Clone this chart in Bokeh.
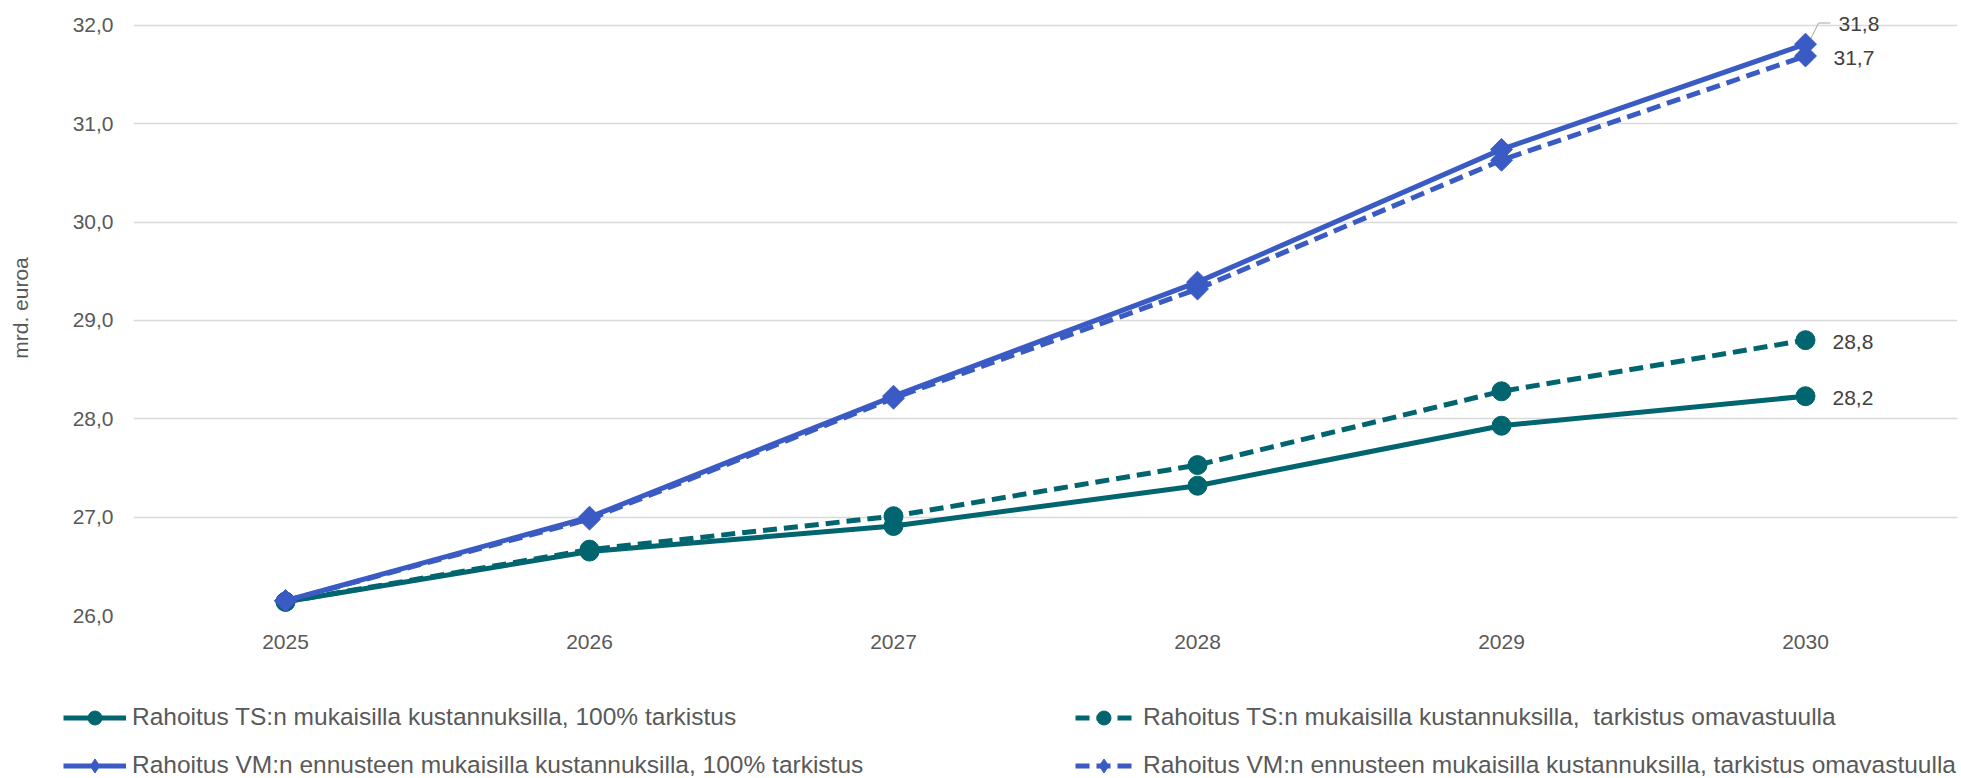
import math
from bokeh.plotting import figure
from bokeh.models import Range1d, FixedTicker, Legend, LegendItem, ColumnDataSource
from bokeh.embed import file_html
from bokeh.resources import INLINE
from bokeh.core.properties import value

# ---- data ----
years = [2025, 2026, 2027, 2028, 2029, 2030]
ts_full = [26.14, 26.65, 26.91, 27.32, 27.93, 28.23]
ts_own = [26.14, 26.67, 27.01, 27.53, 28.28, 28.80]
vm_full = [26.15, 27.00, 28.23, 29.39, 30.74, 31.81]
vm_own = [26.15, 26.98, 28.21, 29.32, 30.63, 31.69]
y_ticks = [26, 27, 28, 29, 30, 31, 32]
series_names = [
    "Rahoitus TS:n mukaisilla kustannuksilla, 100% tarkistus",
    "Rahoitus TS:n mukaisilla kustannuksilla,  tarkistus omavastuulla",
    "Rahoitus VM:n ennusteen mukaisilla kustannuksilla, 100% tarkistus",
    "Rahoitus VM:n ennusteen mukaisilla kustannuksilla, tarkistus omavastuulla",
]
y_title = "mrd. euroa"

TEAL = "#00656F"
BLUE = "#3A5BC4"
FONT = "Liberation Sans"
TICK_COLOR = "#595959"
LABEL_COLOR = "#404040"
DASH = "14 7"

# ---------------- main chart ----------------
p = figure(width=1961, height=663, output_backend="svg", toolbar_location=None,
           x_range=Range1d(2024.5, 2030.5), y_range=Range1d(26, 32.254),
           min_border_left=133, min_border_right=4, min_border_top=0,
           min_border_bottom=48)
p.outline_line_color = None
p.background_fill_color = "white"
p.border_fill_color = "white"

p.xaxis.ticker = FixedTicker(ticks=years)
p.xaxis.major_label_overrides = {y: str(y) for y in years}
p.yaxis.ticker = FixedTicker(ticks=y_ticks)
p.yaxis.major_label_overrides = {t: f"{t:.1f}".replace(".", ",") for t in y_ticks}
for ax in (p.xaxis, p.yaxis):
    ax.axis_line_color = None
    ax.major_tick_line_color = None
    ax.minor_tick_line_color = None
    ax.major_tick_out = 0
    ax.major_tick_in = 0
    ax.major_label_text_font = FONT
    ax.major_label_text_font_size = "21px"
    ax.major_label_text_color = TICK_COLOR
p.xaxis.major_label_standoff = 19
p.yaxis.major_label_standoff = 20
p.yaxis.axis_label = y_title
p.yaxis.axis_label_text_font = FONT
p.yaxis.axis_label_text_font_size = "21px"
p.yaxis.axis_label_text_font_style = "normal"
p.yaxis.axis_label_text_color = TICK_COLOR
p.yaxis.axis_label_standoff = 38

p.xgrid.grid_line_color = None
p.ygrid.ticker = FixedTicker(ticks=y_ticks)
p.ygrid.grid_line_color = "#D9D9D9"
p.ygrid.grid_line_width = 1.3

# leader line for the top label
xl = years[-1]
vt = vm_full[-1]
p.line(x=[xl + 0.01, xl + 0.043, xl + 0.082], y=[vt + 0.01, vt + 0.215, vt + 0.215],
       line_color="#A6A6A6", line_width=1)

p.line(years, ts_full, line_color=TEAL, line_width=5)
p.scatter(years, ts_full, marker="circle", size=19, color=TEAL)
p.line(years, ts_own, line_color=TEAL, line_width=5, line_dash=DASH)
p.scatter(years, ts_own, marker="circle", size=19, color=TEAL)
p.line(years, vm_full, line_color=BLUE, line_width=5)
p.scatter(years, vm_full, marker="square", angle=math.pi / 4, size=15.5, color=BLUE)
p.line(years, vm_own, line_color=BLUE, line_width=5, line_dash=DASH)
p.scatter(years, vm_own, marker="square", angle=math.pi / 4, size=15.5, color=BLUE)

lab_vals = [vm_full[-1], vm_own[-1], ts_own[-1], ts_full[-1]]
lab_src = ColumnDataSource(dict(
    x=[years[-1]] * 4,
    y=[vm_full[-1] + 0.21, vm_own[-1] - 0.02, ts_own[-1] - 0.015, ts_full[-1] - 0.015],
    t=[f"{v:.1f}".replace(".", ",") for v in lab_vals],
    xo=[33, 28, 27, 27],
))
p.text(x="x", y="y", text="t", x_offset="xo", source=lab_src,
       text_font=value(FONT), text_font_size="21px", text_color=LABEL_COLOR,
       text_align="left", text_baseline="middle")

# ---------------- legend strip ----------------
q = figure(width=1961, height=115, output_backend="svg", toolbar_location=None,
           x_range=Range1d(0, 1), y_range=Range1d(0, 1),
           x_axis_location=None, y_axis_location=None,
           min_border_left=0, min_border_right=0, min_border_top=0, min_border_bottom=0)
q.outline_line_color = None
q.xgrid.grid_line_color = None
q.ygrid.grid_line_color = None
q.border_fill_color = "white"

nan = float("nan")
g1 = q.line([0], [nan], line_color=TEAL, line_width=5)
s1 = q.scatter([0], [nan], marker="circle", size=14, color=TEAL)
g2 = q.line([0], [nan], line_color=TEAL, line_width=5, line_dash="14 7")
s2 = q.scatter([0], [nan], marker="circle", size=14, color=TEAL)
g3 = q.line([0], [nan], line_color=BLUE, line_width=5)
s3 = q.scatter([0], [nan], marker="diamond", size=14, color=BLUE)
g4 = q.line([0], [nan], line_color=BLUE, line_width=5, line_dash="14 7")
s4 = q.scatter([0], [nan], marker="diamond", size=14, color=BLUE)

def make_legend(items, x, gw, standoff):
    return Legend(items=items, location=(x, -4.5), orientation="vertical",
                  glyph_width=gw, glyph_height=35, label_standoff=standoff,
                  spacing=13, padding=0, margin=0,
                  border_line_alpha=0, background_fill_alpha=0,
                  label_text_font=FONT, label_text_font_size="24.5px",
                  label_text_color=TICK_COLOR, label_height=35)

leg1 = make_legend([
    LegendItem(label=series_names[0], renderers=[g1, s1]),
    LegendItem(label=series_names[2], renderers=[g3, s3]),
], 63, 63, 6)
leg2 = make_legend([
    LegendItem(label=series_names[1], renderers=[g2, s2]),
    LegendItem(label=series_names[3], renderers=[g4, s4]),
], 1075, 57, 11)
q.add_layout(leg1)
q.add_layout(leg2)

open("out.html", "w").write(file_html([p, q], INLINE))
